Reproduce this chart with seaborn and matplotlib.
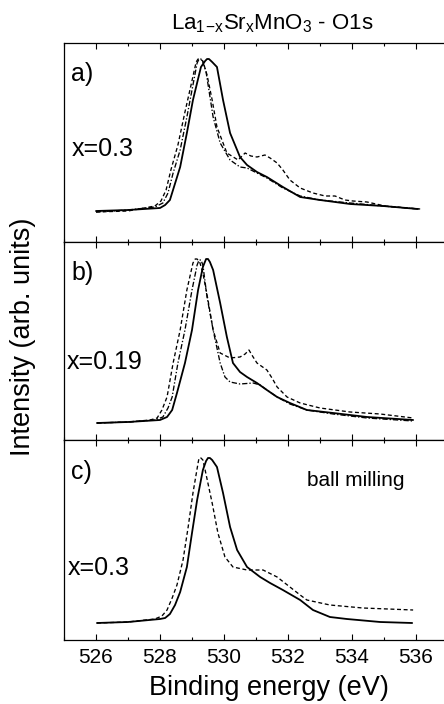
import matplotlib
matplotlib.use("Agg")
import matplotlib.pyplot as plt
import seaborn as sns
from matplotlib.ticker import MultipleLocator

sns.set_style("ticks")
plt.rcParams["font.family"] = ["Liberation Sans", "DejaVu Sans"]
plt.rcParams["mathtext.default"] = "regular"
plt.rcParams["text.color"] = "black"
plt.rcParams["xtick.color"] = "black"
plt.rcParams["xtick.labelcolor"] = "black"
plt.rcParams["axes.labelcolor"] = "black"

# ---------------- data (binding energy eV, intensity arb. units) ----------------
# panel a) x=0.3
Ea_solid = [526.00, 527.00, 528.00, 528.16, 528.31, 528.63, 528.84, 529.03, 529.28, 529.41, 529.47, 529.53,
            529.63, 529.78, 529.97, 530.19, 530.50, 530.72, 531.03, 531.34, 531.84, 532.38, 533.00,
            533.94, 534.97, 536.06]
Ia_solid = [31, 32, 34, 37, 42, 75, 109, 142, 175, 181, 183, 183,
            180, 175, 142, 109, 85, 77, 70, 65, 55, 45, 42,
            38, 36, 33]
Ea_dashdot = [526.00, 527.00, 527.84, 528.09, 528.25, 528.41, 528.63, 528.84, 529.00, 529.16, 529.22, 529.28,
              529.34, 529.44, 529.66, 529.88, 530.19, 530.50, 530.72, 531.03, 531.34, 531.84, 532.38,
              533.00, 533.94, 534.97, 536.06]
Ia_dashdot = [30, 32, 35, 39, 49, 69, 92, 125, 152, 179, 183, 183,
              180, 170, 125, 99, 82, 75, 74, 69, 64, 54, 46,
              42, 39, 36, 33]
Ea_dashed = [526.00, 527.00, 527.84, 528.03, 528.19, 528.34, 528.56, 528.78, 528.97, 529.13, 529.19, 529.25,
             529.34, 529.47, 529.63, 529.78, 530.09, 530.44, 530.66, 530.84, 531.03, 531.28, 531.44,
             531.66, 531.84, 532.06, 532.38, 532.78, 533.16, 533.47, 533.78, 534.03, 534.47, 535.03,
             536.13]
Ia_dashed = [30, 31, 36, 41, 52, 72, 97, 130, 157, 180, 183, 183,
             181, 167, 142, 115, 89, 82, 89, 86, 85, 87, 84,
             79, 72, 62, 54, 49, 46, 46, 42, 41, 40, 36,
             33]

# panel b) x=0.19
Eb_solid = [526.03, 527.00, 528.00, 528.22, 528.38, 528.53, 528.78, 529.00, 529.19, 529.34, 529.44, 529.50,
            529.56, 529.66, 529.88, 530.09, 530.28, 530.50, 530.72, 531.03, 531.34, 531.66, 532.06,
            532.59, 533.41, 534.47, 535.91]
Ib_solid = [17, 18, 20, 23, 30, 47, 77, 110, 150, 173, 181, 181,
            178, 170, 137, 103, 77, 68, 63, 57, 50, 43, 37,
            30, 27, 23, 20]
Eb_dashed = [526.03, 527.00, 527.69, 527.91, 528.06, 528.22, 528.41, 528.63, 528.84, 529.03, 529.10, 529.16,
             529.25, 529.34, 529.50, 529.66, 529.88, 530.19, 530.50, 530.66, 530.78, 530.91, 531.03,
             531.34, 531.50, 531.66, 531.97, 532.38, 533.00, 533.94, 534.88, 535.91]
Ib_dashed = [17, 18, 20, 22, 30, 43, 77, 110, 150, 177, 181, 181,
             177, 167, 140, 110, 87, 82, 83, 86, 90, 83, 77,
             70, 62, 53, 43, 37, 32, 28, 26, 22]
Eb_dashdot = [526.03, 527.00, 527.84, 528.09, 528.25, 528.38, 528.56, 528.78, 529.00, 529.16, 529.22, 529.28,
              529.34, 529.47, 529.66, 529.88, 530.03, 530.19, 530.50, 530.91, 531.13, 531.34, 531.66,
              532.06, 532.59, 533.41, 534.47, 535.91]
Ib_dashdot = [17, 18, 20, 23, 32, 43, 77, 110, 150, 175, 180, 180,
              175, 143, 110, 77, 63, 58, 56, 57, 55, 50, 43,
              36, 30, 26, 22, 19]

# panel c) x=0.3, ball milling
Ec_solid = [526.03, 527.00, 528.00, 528.16, 528.31, 528.47, 528.63, 528.84, 529.00, 529.16, 529.34,
            529.44, 529.50, 529.56, 529.63, 529.78, 529.97, 530.19, 530.41, 530.72, 531.13, 531.44, 531.84,
            532.38, 532.78, 533.31, 533.84, 534.88, 535.88]
Ic_solid = [17, 18, 21, 22, 26, 35, 48, 73, 107, 140, 170,
            179, 182, 182, 180, 173, 147, 113, 90, 73, 63, 57, 50,
            40, 30, 23, 21, 18, 17]
Ec_dashed = [526.03, 527.00, 527.84, 528.06, 528.22, 528.38, 528.53, 528.72, 528.88, 529.03, 529.19,
             529.22, 529.28, 529.34, 529.41, 529.63, 529.81, 530.03, 530.28, 530.72, 531.22, 531.66, 532.06,
             532.38, 532.59, 533.31, 534.34, 535.91]
Ic_dashed = [17, 18, 21, 24, 30, 42, 55, 80, 113, 147, 177,
             182, 182, 180, 170, 137, 107, 83, 73, 70, 70, 63, 53,
             45, 40, 35, 32, 30]

panel_tags = ["a)", "b)", "c)"]
composition_labels = ["x=0.3", "x=0.19", "x=0.3"]
xtick_values = [526, 528, 530, 532, 534, 536]

# ---------------- figure ----------------
W, H = 444, 704
fig = plt.figure(figsize=(W / 100, H / 100), dpi=100)

def fx(px):
    return px / W

def fy(py):
    return 1 - py / H

left_px, right_px = 64, 448
panels_px = [(43, 242), (242, 440), (440, 640)]
axes = []
for top, bot in panels_px:
    ax = fig.add_axes([fx(left_px), fy(bot), (right_px - left_px) / W, (bot - top) / H])
    axes.append(ax)

solid_kw = dict(color="black", linewidth=1.3, estimator=None, sort=False)
dash_kw = dict(color="black", linewidth=0.95, estimator=None, sort=False)

ax = axes[0]
sns.lineplot(x=Ea_dashdot, y=Ia_dashdot, ax=ax, linestyle=(0, (4, 1.5, 1, 1.5)), **dash_kw)
sns.lineplot(x=Ea_dashed, y=Ia_dashed, ax=ax, linestyle=(0, (3, 2)), **dash_kw)
sns.lineplot(x=Ea_solid, y=Ia_solid, ax=ax, linestyle="-", **solid_kw)

ax = axes[1]
sns.lineplot(x=Eb_dashdot, y=Ib_dashdot, ax=ax, linestyle=(0, (4, 1.5, 1, 1.5)), **dash_kw)
sns.lineplot(x=Eb_dashed, y=Ib_dashed, ax=ax, linestyle=(0, (3, 2)), **dash_kw)
sns.lineplot(x=Eb_solid, y=Ib_solid, ax=ax, linestyle="-", **solid_kw)

ax = axes[2]
sns.lineplot(x=Ec_dashed, y=Ic_dashed, ax=ax, linestyle=(0, (3, 2)), **dash_kw)
sns.lineplot(x=Ec_solid, y=Ic_solid, ax=ax, linestyle="-", **solid_kw)

ylims = [199, 198, 200]
for i, ax in enumerate(axes):
    ax.set_xlim(525, 537)
    ax.set_ylim(0, ylims[i])
    ax.set_yticks([])
    ax.set_xticks(xtick_values)
    ax.xaxis.set_minor_locator(MultipleLocator(1))
    ax.tick_params(axis="x", which="major", direction="in", top=True, bottom=True,
                   length=4.5, width=0.8, labelsize=15, pad=6, colors="black",
                   labelbottom=(i == 2))
    ax.tick_params(axis="x", which="minor", direction="in", top=True, bottom=True,
                   length=2.4, width=0.8, colors="black")
    ax.set_xlabel("")
    ax.set_ylabel("")
    for sp in ax.spines.values():
        sp.set_linewidth(0.9)
        sp.set_color("black")

# texts
fig.text(fx(272), fy(24), r"La$_{1\!-\!x}$Sr$_x$MnO$_3$ - O1s", ha="center", va="center", fontsize=16, color="black")
fig.text(fx(269), fy(688), "Binding energy (eV)", ha="center", va="center", fontsize=19.5, color="black")
fig.text(fx(23), fy(337), "Intensity (arb. units)", ha="center", va="center", rotation=90, fontsize=19.5, color="black")

tag_y = [74, 273, 472]
comp_xy = [(72, 149), (67, 362), (68, 568)]
for i in range(3):
    fig.text(fx(71), fy(tag_y[i]), panel_tags[i], ha="left", va="center", fontsize=18, color="black")
    fig.text(fx(comp_xy[i][0]), fy(comp_xy[i][1]), composition_labels[i], ha="left", va="center", fontsize=18, color="black")
fig.text(fx(356), fy(481), "ball milling", ha="center", va="center", fontsize=15, color="black")

fig.savefig("out.png", dpi=100)
